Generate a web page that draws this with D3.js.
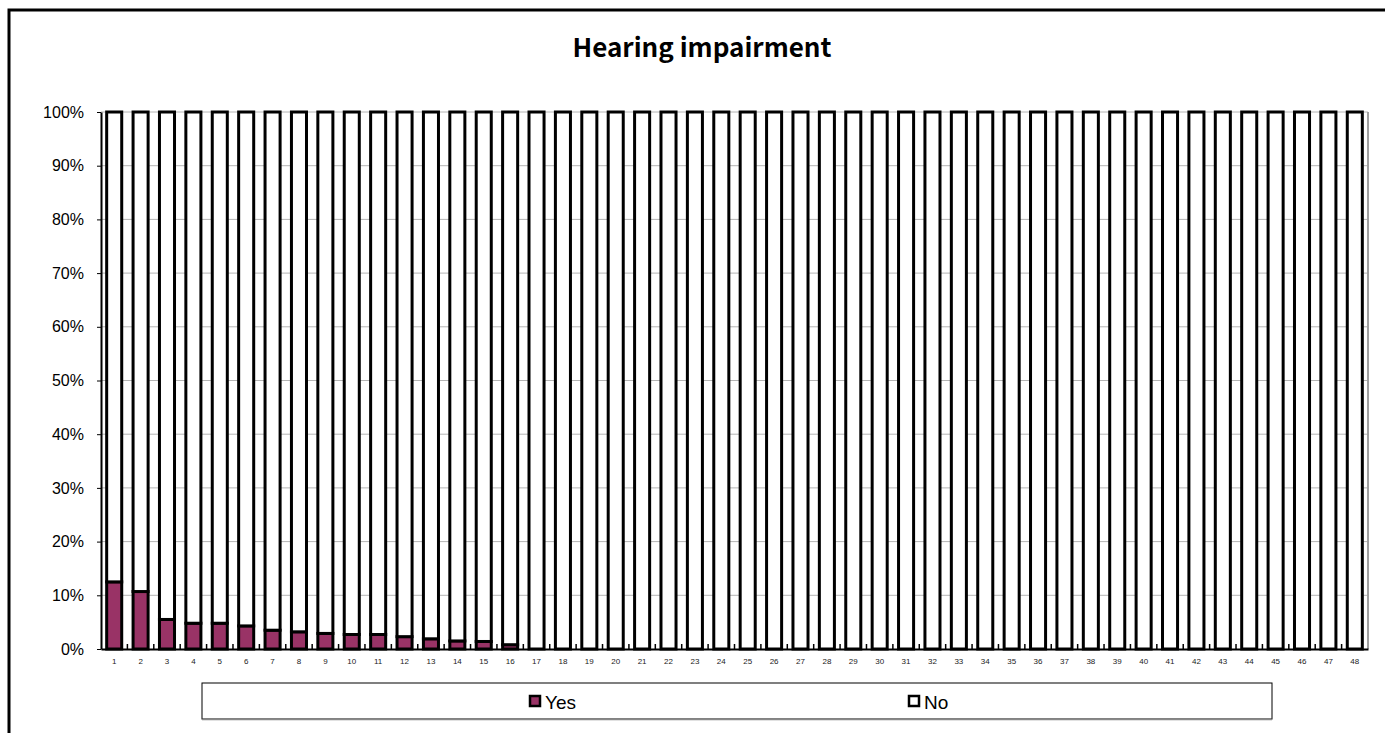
<!DOCTYPE html>
<html>
<head>
<meta charset="utf-8">
<script src="https://cdn.jsdelivr.net/npm/d3@7.9.0/dist/d3.min.js"></script>
<style>
  body { margin: 0; background: #fff; }
  svg { display: block; }
</style>
</head>
<body>
<div id="chart"></div>
<script>
// --- data ---
const categories = d3.range(1, 49).map(String);
const yesValues = [12.5, 10.7, 5.5, 4.8, 4.8, 4.3, 3.5, 3.2, 2.9, 2.7, 2.7, 2.3, 1.9, 1.5, 1.4, 0.8,
  0, 0, 0, 0, 0, 0, 0, 0, 0, 0, 0, 0, 0, 0, 0, 0,
  0, 0, 0, 0, 0, 0, 0, 0, 0, 0, 0, 0, 0, 0, 0, 0];
const seriesNames = ["Yes", "No"];
const seriesColors = ["#993366", "#ffffff"];
const yTicks = [0, 10, 20, 30, 40, 50, 60, 70, 80, 90, 100];
const title = "Hearing impairment";

const width = 1385, height = 733;
const plot = { left: 101, right: 1368, top: 112, bottom: 649 };

const rows = categories.map((c, i) => ({ cat: c, Yes: yesValues[i], No: 100 - yesValues[i] }));
const stacked = d3.stack().keys(seriesNames)(rows);

const svg = d3.select("#chart").append("svg")
  .attr("width", width).attr("height", height);

// outer frame
svg.append("rect")
  .attr("x", 9).attr("y", 10)
  .attr("width", width + 20).attr("height", height + 20)
  .attr("fill", "none").attr("stroke", "#000").attr("stroke-width", 3);

svg.append("text")
  .attr("x", 702).attr("y", 57)
  .attr("text-anchor", "middle")
  .attr("font-family", "'Noto Sans CJK JP', 'DejaVu Sans', sans-serif")
  .attr("font-weight", "bold")
  .attr("font-size", 26)
  .text(title);

const x = d3.scaleBand().domain(categories)
  .range([plot.left, plot.right])
  .paddingInner(0.43).paddingOuter(0.215);
const y = d3.scaleLinear().domain([0, 100]).range([plot.bottom, plot.top]);

// gridlines
svg.append("g")
  .selectAll("line")
  .data(yTicks.filter(d => d > 0))
  .join("line")
  .attr("x1", plot.left).attr("x2", plot.right)
  .attr("y1", d => y(d)).attr("y2", d => y(d))
  .attr("stroke", "#b4b4b4").attr("stroke-width", 1);

// right plot edge
svg.append("line")
  .attr("x1", plot.right).attr("x2", plot.right)
  .attr("y1", plot.top).attr("y2", plot.bottom)
  .attr("stroke", "#a0a0a0").attr("stroke-width", 2);

// bars
svg.append("g")
  .selectAll("g")
  .data(stacked)
  .join("g")
  .attr("fill", (d, i) => seriesColors[i])
  .selectAll("rect")
  .data(d => d.map(v => ({ v, cat: v.data.cat })))
  .join("rect")
  .attr("x", d => x(d.cat))
  .attr("width", x.bandwidth())
  .attr("y", d => y(d.v[1]))
  .attr("height", d => y(d.v[0]) - y(d.v[1]))
  .attr("stroke", "#000")
  .attr("stroke-width", 3);

// y axis
const yAxis = svg.append("g")
  .attr("transform", `translate(${plot.left},0)`)
  .call(d3.axisLeft(y).tickValues(yTicks).tickFormat(d => d + "%").tickSize(4).tickSizeOuter(0));
yAxis.select(".domain").attr("stroke", "#000").attr("stroke-width", 2);
yAxis.selectAll("line").attr("stroke", "#000");
yAxis.selectAll("text")
  .attr("font-family", "'Liberation Sans', Arial, sans-serif")
  .attr("font-size", 16)
  .attr("fill", "#000")
  .attr("x", -17);

// x axis
const xAxis = svg.append("g")
  .attr("transform", `translate(0,${plot.bottom})`)
  .call(d3.axisBottom(x).tickSize(0).tickPadding(9));
xAxis.select(".domain").attr("stroke", "#000").attr("stroke-width", 2);
xAxis.selectAll("text")
  .attr("font-family", "'Liberation Sans', Arial, sans-serif")
  .attr("font-size", 8)
  .attr("fill", "#222");

// inner ticks between categories
svg.append("g")
  .selectAll("line")
  .data(categories.slice(1))
  .join("line")
  .attr("x1", d => x(d) - x.step() * x.paddingInner() / 2)
  .attr("x2", d => x(d) - x.step() * x.paddingInner() / 2)
  .attr("y1", plot.bottom).attr("y2", plot.bottom - 5)
  .attr("stroke", "#000").attr("stroke-width", 1.5);

// legend
const legend = svg.append("g");
legend.append("rect")
  .attr("x", 202).attr("y", 683).attr("width", 1070).attr("height", 36)
  .attr("fill", "#fff").attr("stroke", "#000").attr("stroke-width", 1);
legend.append("line")
  .attr("x1", 202).attr("x2", 1272).attr("y1", 719.5).attr("y2", 719.5)
  .attr("stroke", "#888").attr("stroke-width", 1.5);
const legendX = [530, 909];
seriesNames.forEach((name, i) => {
  legend.append("rect")
    .attr("x", legendX[i]).attr("y", 696).attr("width", 10).attr("height", 10)
    .attr("fill", seriesColors[i]).attr("stroke", "#000").attr("stroke-width", 2.5);
  legend.append("text")
    .attr("x", legendX[i] + 15).attr("y", 709)
    .attr("font-family", "'Liberation Sans', Arial, sans-serif")
    .attr("font-size", 19)
    .text(name);
});
</script>
</body>
</html>
